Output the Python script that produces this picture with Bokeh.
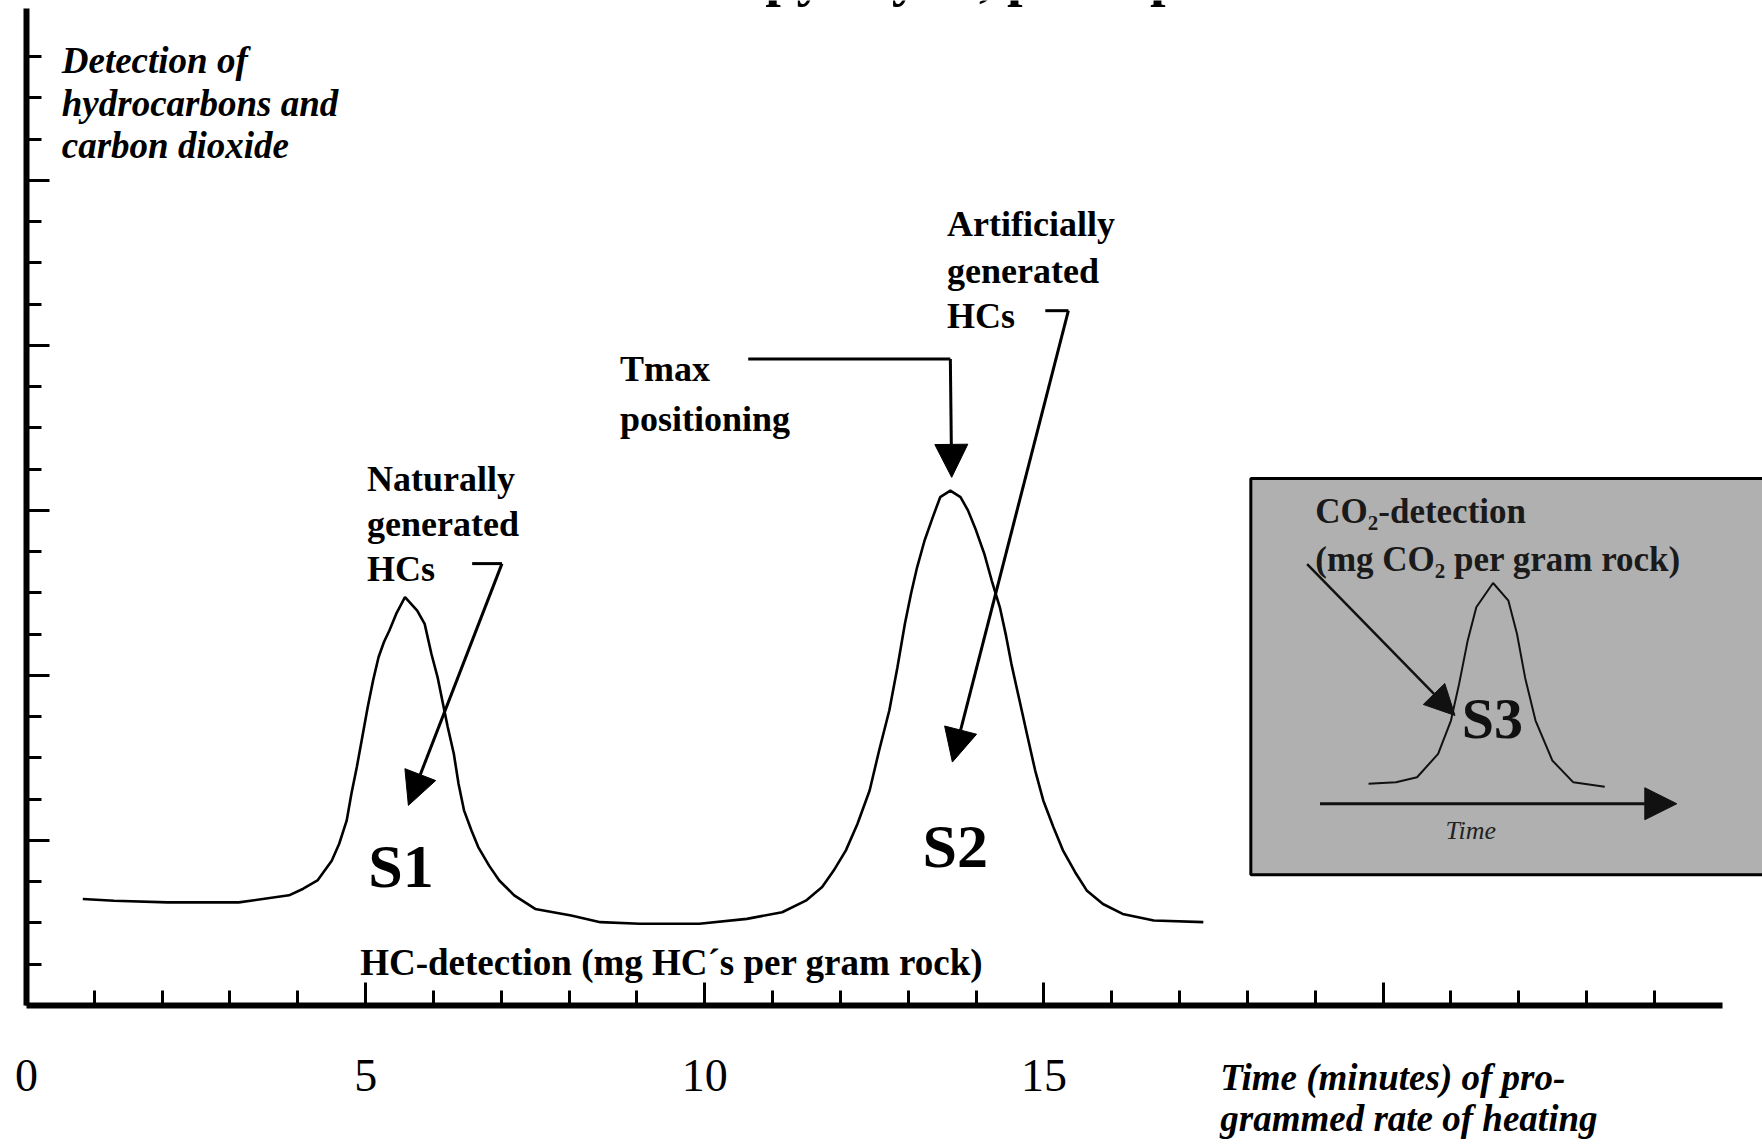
from bokeh.plotting import figure
from bokeh.models import Range1d, FixedTicker, Arrow, NormalHead, Label, LinearAxis
from bokeh.embed import file_html
from bokeh.resources import INLINE
from bokeh.core.properties import value

# ---------------- data ----------------
time_min = [0.83, 1.29, 2.08, 3.13, 3.87, 4.08, 4.29, 4.50, 4.61, 4.72, 4.79, 4.87,
            4.95, 5.03, 5.11, 5.19, 5.27, 5.35, 5.45, 5.58, 5.76, 5.87, 5.97, 6.06,
            6.13, 6.21, 6.30, 6.37, 6.45, 6.56, 6.66, 6.82, 6.97, 7.19, 7.50, 8.03,
            8.46, 9.04, 9.92, 10.62, 11.14, 11.49, 11.73, 11.90, 12.08, 12.25, 12.43,
            12.57, 12.72, 12.84, 12.95, 13.04, 13.13, 13.24, 13.36, 13.47, 13.62, 13.77,
            13.88, 14.00, 14.12, 14.23, 14.35, 14.44, 14.52, 14.64, 14.76, 14.87, 14.99,
            15.14, 15.28, 15.46, 15.63, 15.87, 16.16, 16.62, 17.35]
hc_signal = [2.58, 2.54, 2.50, 2.50, 2.67, 2.83, 3.03, 3.51, 3.92, 4.48, 5.13, 5.78,
             6.50, 7.23, 7.88, 8.44, 8.81, 9.09, 9.49, 9.90, 9.57, 9.25, 8.52, 7.96,
             7.39, 6.75, 6.10, 5.37, 4.73, 4.24, 3.84, 3.39, 3.03, 2.67, 2.34, 2.18,
             2.02, 1.98, 1.98, 2.10, 2.26, 2.54, 2.87, 3.27, 3.76, 4.40, 5.21,
             6.18, 7.15, 8.20, 9.25, 9.98, 10.62, 11.27, 11.83, 12.32, 12.48, 12.32,
             12.00, 11.51, 10.95, 10.30, 9.65, 8.97, 8.28, 7.39, 6.50, 5.70, 4.97,
             4.32, 3.76, 3.23, 2.79, 2.46, 2.22, 2.06, 2.02]

# inset (CO2) curve, in the inset's own units: time 0..10 along its arrow, signal 0..1
inset_time = [1.36, 2.13, 2.72, 3.31, 3.67, 3.90, 4.14, 4.38, 4.85, 5.28, 5.52,
              5.75, 6.04, 6.51, 7.10, 7.98]
inset_co2 = [0.09, 0.097, 0.12, 0.226, 0.377, 0.544, 0.74, 0.89, 1.0, 0.92, 0.77,
             0.57, 0.377, 0.196, 0.097, 0.077]

x_labelled_ticks = [0, 5, 10, 15]
x_long_ticks = [20]
x_short_ticks = [t for t in range(1, 25) if t % 5 != 0]
y_long_ticks = [4, 8, 12, 16, 20]
y_short_ticks = [t for t in range(1, 24) if t % 4 != 0]

# ---------------- layout ----------------
SERIF = "Liberation Serif"
W, H = 1762, 1148
X0_PX, Y0_PX = 26, 1005          # pixel position of the origin
PX_X, PX_Y = 67.83, 41.26        # pixels per minute / per y unit
BASE_SHIFT = 0.32                # baseline correction (em)

p = figure(width=W, height=H,
           x_range=Range1d(-X0_PX / PX_X, (W - X0_PX) / PX_X),
           y_range=Range1d(-(H - Y0_PX) / PX_Y, Y0_PX / PX_Y),
           x_axis_location=None, y_axis_location=None,
           output_backend="svg", toolbar_location=None, title=None,
           min_border=0)
p.grid.visible = False
p.outline_line_color = None
p.background_fill_color = "white"
p.border_fill_color = "white"


def make_axis(kind, major, minor, tick_len, line=True):
    ax = LinearAxis(ticker=FixedTicker(ticks=major, minor_ticks=minor), fixed_location=0)
    ax.axis_line_width = 6
    ax.axis_line_color = "black" if line else None
    ax.major_tick_in = 23
    ax.major_tick_out = 0
    ax.minor_tick_in = tick_len
    ax.minor_tick_out = 0
    ax.major_tick_line_width = 3
    ax.minor_tick_line_width = 3
    ax.major_tick_line_color = "black"
    ax.minor_tick_line_color = "black"
    if kind == "x":
        ax.bounds = (0, 25)
        ax.major_label_standoff = 54
        ax.major_label_text_font = SERIF
        ax.major_label_text_font_size = "46px"
        ax.major_label_text_color = "black"
        p.add_layout(ax, "below")
    else:
        ax.bounds = (0, (Y0_PX - 8) / PX_Y)
        p.add_layout(ax, "left")


make_axis("x", x_labelled_ticks, x_short_ticks, 15)
make_axis("x", [], x_long_ticks, 23, line=False)
make_axis("y", [], y_short_ticks, 15)
make_axis("y", [], y_long_ticks, 23, line=False)


def ty(y, size):
    return y + BASE_SHIFT * size / PX_Y


# title, cut off at the top edge as in the scanned original
p.text(x=[6.97], y=[ty(Y0_PX / PX_Y + 0.16, 56)], text=["Rock-Eval pyrolysis, principles"],
       text_font=value(SERIF), text_font_style="bold", text_font_size="56px",
       text_color="black", text_baseline="alphabetic", text_align="left")

# main HC curve
p.line(time_min, hc_signal, line_width=2.6, line_color="black")

# inset box
INS = dict(left=18.05, right=26.5, top=12.77, bottom=3.17,
           x0=19.07, xs=0.526, y0=4.89, ys=5.35)
p.quad(left=[INS["left"]], right=[INS["right"]], top=[INS["top"]], bottom=[INS["bottom"]],
       fill_color="#b0b0b0", line_color="black", line_width=3)
ix = [INS["x0"] + t * INS["xs"] for t in inset_time]
iy = [INS["y0"] + v * INS["ys"] for v in inset_co2]
p.line(ix, iy, line_width=2, line_color="#111111")


def label(x, y, text, size, style="bold", color="black"):
    p.add_layout(Label(x=x, y=ty(y, size), text=text, text_font=SERIF,
                       text_font_size=f"{size}px", text_font_style=style,
                       text_color=color, text_baseline="alphabetic", text_align="left"))


def arrow(x0, y0, x1, y1, size=33, width=3, color="black"):
    p.add_layout(Arrow(end=NormalHead(size=size, fill_color=color, line_color=color),
                       x_start=x0, y_start=y0, x_end=x1, y_end=y1,
                       line_width=width, line_color=color))


# y-axis title
for txt, yy in (("Detection of", 22.62), ("hydrocarbons and", 21.57), ("carbon dioxide", 20.56)):
    label(0.52, yy, txt, 37, "bold italic")

# S1 annotation
for txt, yy in (("Naturally", 12.48), ("generated", 11.39), ("HCs", 10.30)):
    label(5.02, yy, txt, 36)
p.line([6.57, 7.01], [10.71, 10.71], line_width=3, line_color="black")
arrow(7.01, 10.71, 5.63, 4.85)
label(5.04, 2.91, "S1", 62)

# Tmax annotation: arrow tip just above the S2 peak
s2_i = max(range(len(time_min)), key=lambda i: hc_signal[i] if time_min[i] > 10 else -1)
tmax_x = time_min[s2_i]
for txt, yy in (("Tmax", 15.15), ("positioning", 13.94)):
    label(8.75, yy, txt, 36)
p.line([10.64, tmax_x], [15.67, 15.67], line_width=3, line_color="black")
arrow(tmax_x, 15.67, tmax_x + 0.02, hc_signal[s2_i] + 0.32)

# S2 annotation
for txt, yy in (("Artificially", 18.66), ("generated", 17.53), ("HCs", 16.44)):
    label(13.57, yy, txt, 36)
p.line([15.02, 15.36], [16.84, 16.84], line_width=3, line_color="black")
arrow(15.36, 16.84, 13.65, 5.90)
label(13.21, 3.39, "S2", 62)

label(4.92, 0.75, "HC-detection (mg HC\u00b4s per gram rock)", 37)

# x-axis title
label(17.60, -2.02, "Time (minutes) of pro-", 37, "bold italic")
label(17.60, -3.03, "grammed rate of heating", 37, "bold italic")

# inset texts and arrows
label(19.0, 11.71, "CO\u2082-detection", 35, "bold", "#1a1a1a")
label(19.0, 10.54, "(mg CO\u2082 per gram rock)", 35, "bold", "#1a1a1a")
arrow(18.88, 10.70, 21.06, 7.03, size=30, width=2.5, color="#111111")
label(21.16, 6.50, "S3", 58, "bold", "#111111")
arrow(INS["x0"], INS["y0"], INS["x0"] + 10 * INS["xs"], INS["y0"], size=32, width=3, color="#111111")
label(20.92, 4.04, "Time", 26, "italic", "#222222")

open("out.html", "w").write(file_html(p, INLINE))
